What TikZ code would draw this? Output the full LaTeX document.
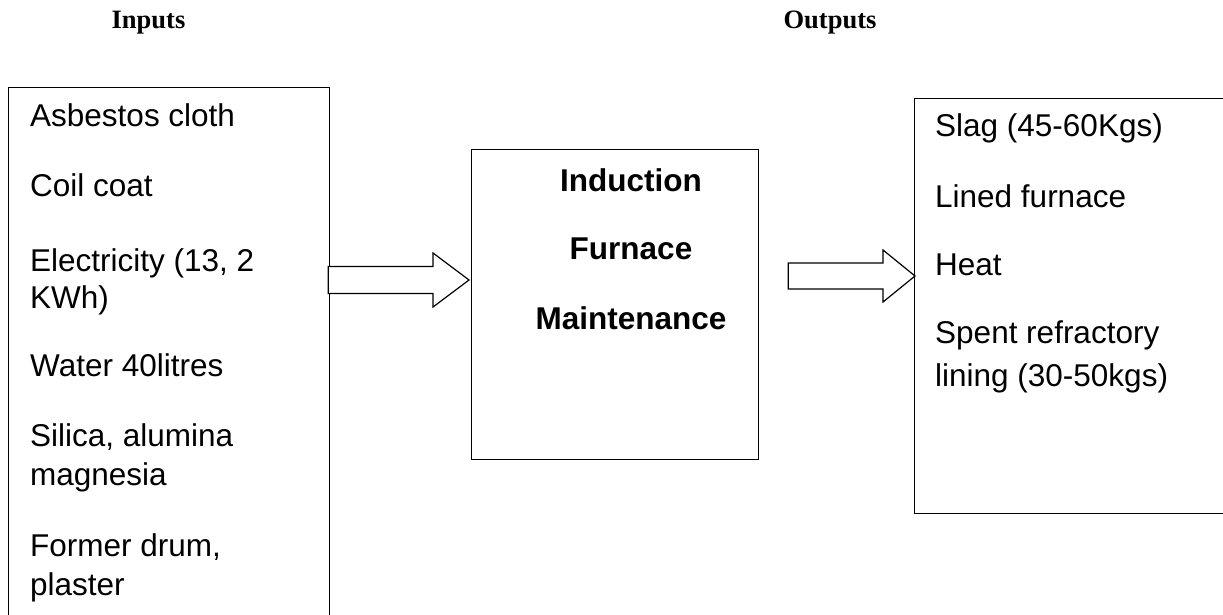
\documentclass[tikz,border=0pt]{standalone}
\usepackage{fontspec}
\setmainfont{Liberation Serif}
\newfontfamily\arialfont{Liberation Sans}
\usetikzlibrary{calc}

\tikzset{
  heading/.style={font=\fontsize{26.5}{30}\selectfont\bfseries, anchor=base, inner sep=0pt},
  item/.style={font=\arialfont\fontsize{31.5}{36}\selectfont, anchor=base west, inner sep=0pt},
  title/.style={font=\arialfont\bfseries\fontsize{31.5}{36}\selectfont, anchor=base, inner sep=0pt},
  frame/.style={draw, line width=1.2pt, anchor=north west, inner sep=0pt},
  blockarrow/.style={draw, line width=1.2pt, line join=miter, fill=white},
}

% draws a hollow block arrow from #1 to #2 (shaft half-height #3, head half-height #4, head length #5)
\newcommand\hollowarrow[5]{%
  \draw[blockarrow]
    ($(#1)+(0,-#3)$) -- ($(#2)+(-#5,-#3)$) -- ($(#2)+(-#5,-#4)$) -- (#2)
    -- ($(#2)+(-#5,#4)$) -- ($(#2)+(-#5,#3)$) -- ($(#1)+(0,#3)$) -- cycle;
}

\begin{document}
\begin{tikzpicture}[x=1pt, y=-1pt]
  \useasboundingbox (0,0) rectangle (1223,615);
  \clip (0,0) rectangle (1223,615);
  \fill[white] (0,0) rectangle (1223,615);

  % column headings
  \node[heading] (hin)  at (148.5,29) {Inputs};
  \node[heading] (hout) at (830,29)   {Outputs};

  % the three boxes
  \node[frame, minimum width=321pt, minimum height=560pt] (inbox)  at (8,87) {};
  \node[frame, minimum width=287pt, minimum height=310pt] (mid)    at (471,149) {};
  \node[frame, minimum width=330pt, minimum height=415pt] (outbox) at (914,98) {};

  % inputs
  \node[item] (i1) at (30,127) {Asbestos cloth};
  \node[item] (i2) at (30,196) {Coil coat};
  \node[item] (i3) at (30,271) {Electricity (13, 2};
  \node[item] (i4) at (30,308) {KWh)};
  \node[item] (i5) at (30,376) {Water 40litres};
  \node[item] (i6) at (30,446) {Silica, alumina};
  \node[item] (i7) at (30,485) {magnesia};
  \node[item] (i8) at (30,556) {Former drum,};
  \node[item] (i9) at (30,595) {plaster};

  % process
  \node[title] (t1) at (631,191) {Induction};
  \node[title] (t2) at (631,259) {Furnace};
  \node[title] (t3) at (631,329) {Maintenance};

  % outputs
  \node[item] (o1) at (935,137) {Slag (45-60Kgs)};
  \node[item] (o2) at (935,207) {Lined furnace};
  \node[item] (o3) at (935,275) {Heat};
  \node[item] (o4) at (935,343) {Spent refractory};
  \node[item] (o5) at (935,386) {lining (30-50kgs)};

  % flow arrows
  \coordinate (a1tail) at ($(inbox.north east)+(-2,193)$);
  \coordinate (a1tip)  at ($(mid.north west)+(-2,131)$);
  \coordinate (a2tail) at ($(mid.north east)+(29,127)$);
  \coordinate (a2tip)  at ($(outbox.north west)+(1,178)$);
  \hollowarrow{a1tail}{a1tip}{13.5}{27}{36}
  \hollowarrow{a2tail}{a2tip}{13}{26}{32}
\end{tikzpicture}
\end{document}
